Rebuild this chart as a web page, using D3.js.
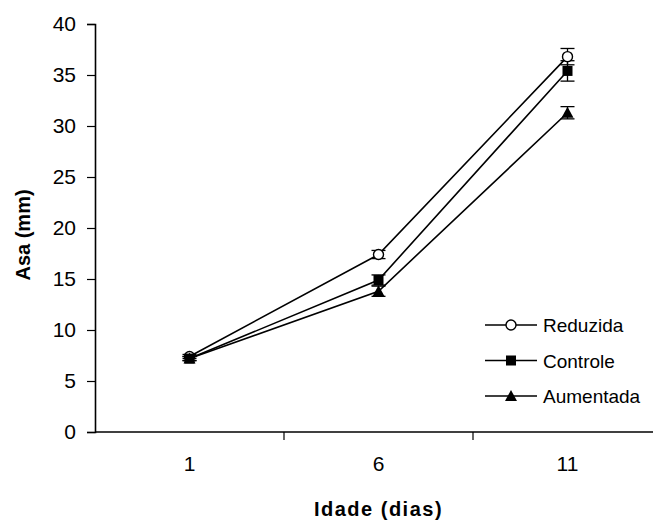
<!DOCTYPE html>
<html>
<head>
<meta charset="utf-8">
<script src="https://cdn.jsdelivr.net/npm/d3@7"></script>
<style>
  body { margin: 0; background: #fff; }
  text { font-family: Arial, "Liberation Sans", sans-serif; fill: #000; }
</style>
</head>
<body>
<svg id="main-svg"></svg>
<script>
// DATA
const AGES = ["1", "6", "11"]
const SERIES_NAMES = ["Reduzida", "Controle", "Aumentada"]
const REDUZIDA = [7.4, 17.4, 36.8]
const CONTROLE = [7.2, 14.9, 35.4]
const AUMENTADA = [7.2, 13.8, 31.3]
const REDUZIDA_ERR = [0.2, 0.4, 0.8]
const CONTROLE_ERR = [0.2, 0.5, 1.0]
const AUMENTADA_ERR = [0.2, 0.5, 0.6]
const Y_TICKS = [0, 5, 10, 15, 20, 25, 30, 35, 40]

// SPACING
const CANVAS_WIDTH = 653
const CANVAS_HEIGHT = 520
const PLOT_LEFT = 95
const PLOT_TOP = 24
const PLOT_BOTTOM = 432
const BAND_WIDTH = 189
const CAP_HALF = 7
const LEGEND_X = 485
const LEGEND_Y = 325
const LEGEND_STEP = 35.5

const series = [
  { name: SERIES_NAMES[0], values: REDUZIDA, errors: REDUZIDA_ERR, symbol: "circle" },
  { name: SERIES_NAMES[1], values: CONTROLE, errors: CONTROLE_ERR, symbol: "square" },
  { name: SERIES_NAMES[2], values: AUMENTADA, errors: AUMENTADA_ERR, symbol: "triangle" },
]

const svg = d3.select("#main-svg")
  .attr("width", CANVAS_WIDTH)
  .attr("height", CANVAS_HEIGHT)

const x = d3.scaleBand()
  .domain(AGES)
  .range([PLOT_LEFT, PLOT_LEFT + BAND_WIDTH * AGES.length])

const y = d3.scaleLinear()
  .domain([0, 40])
  .range([PLOT_BOTTOM, PLOT_TOP])

// axes
const yAxis = svg.append("g")
  .attr("transform", `translate(${PLOT_LEFT},0)`)
  .call(d3.axisLeft(y).tickValues(Y_TICKS).tickSize(8).tickPadding(11))
yAxis.select(".domain").attr("stroke-width", 1.6)
yAxis.selectAll(".tick line").attr("stroke-width", 1.2)
yAxis.selectAll("text").style("font-size", "21px").attr("font-family", null)

const xAxis = svg.append("g")
  .attr("transform", `translate(0,${PLOT_BOTTOM})`)
  .call(d3.axisBottom(x).tickSize(0).tickPadding(24))
xAxis.select(".domain").attr("stroke-width", 1.6).attr("d", `M${PLOT_LEFT},0H${CANVAS_WIDTH}`)
xAxis.selectAll("text").style("font-size", "21px").attr("font-family", null)

// tick marks between categories
svg.append("g")
  .selectAll("line")
  .data(AGES)
  .join("line")
  .attr("x1", d => x(d) + x.bandwidth())
  .attr("x2", d => x(d) + x.bandwidth())
  .attr("y1", PLOT_BOTTOM)
  .attr("y2", PLOT_BOTTOM + 8)
  .attr("stroke", "#000")
  .attr("stroke-width", 1.2)

// axis titles
svg.append("text")
  .attr("x", x("6") + x.bandwidth() / 2)
  .attr("y", 516)
  .attr("text-anchor", "middle")
  .style("font-size", "20px")
  .style("font-weight", "bold")
  .style("letter-spacing", "1.5px")
  .text("Idade (dias)")

svg.append("text")
  .attr("transform", `translate(30,235) rotate(-90)`)
  .attr("text-anchor", "middle")
  .style("font-size", "20px")
  .style("font-weight", "bold")
  .text("Asa (mm)")

const cx = i => x(AGES[i]) + x.bandwidth() / 2

function drawSymbol(g, symbol) {
  if (symbol === "circle") {
    g.append("circle").attr("r", 5).attr("fill", "#fff").attr("stroke", "#000").attr("stroke-width", 1.4)
  } else if (symbol === "square") {
    g.append("rect").attr("x", -5).attr("y", -5).attr("width", 10).attr("height", 10).attr("fill", "#000")
  } else {
    g.append("path").attr("d", "M0,-6L6,5L-6,5Z").attr("fill", "#000")
  }
}

// lines
const line = d3.line()
  .x((_, i) => cx(i))
  .y(d => y(d))

svg.append("g")
  .selectAll("path")
  .data(series)
  .join("path")
  .attr("d", s => line(s.values))
  .attr("fill", "none")
  .attr("stroke", "#000")
  .attr("stroke-width", 1.6)

// error bars
series.forEach(s => {
  const eg = svg.append("g")
  s.values.forEach((v, i) => {
    const top = y(v + s.errors[i])
    const bot = y(v - s.errors[i])
    eg.append("line").attr("x1", cx(i)).attr("x2", cx(i)).attr("y1", top).attr("y2", bot)
      .attr("stroke", "#000").attr("stroke-width", 1.3)
    ;[top, bot].forEach(yy => {
      eg.append("line").attr("x1", cx(i) - CAP_HALF).attr("x2", cx(i) + CAP_HALF)
        .attr("y1", yy).attr("y2", yy).attr("stroke", "#000").attr("stroke-width", 1.3)
    })
  })
})

// markers
series.forEach(s => {
  s.values.forEach((v, i) => {
    const g = svg.append("g").attr("transform", `translate(${cx(i)},${y(v)})`)
    drawSymbol(g, s.symbol)
  })
})

// legend
const legend = svg.append("g")
series.forEach((s, k) => {
  const ly = LEGEND_Y + k * LEGEND_STEP
  legend.append("line")
    .attr("x1", LEGEND_X).attr("x2", LEGEND_X + 52)
    .attr("y1", ly).attr("y2", ly)
    .attr("stroke", "#000").attr("stroke-width", 1.6)
  drawSymbol(legend.append("g").attr("transform", `translate(${LEGEND_X + 26},${ly})`), s.symbol)
  legend.append("text")
    .attr("x", LEGEND_X + 58)
    .attr("y", ly + 7)
    .style("font-size", "19px")
    .text(s.name)
})
</script>
</body>
</html>
